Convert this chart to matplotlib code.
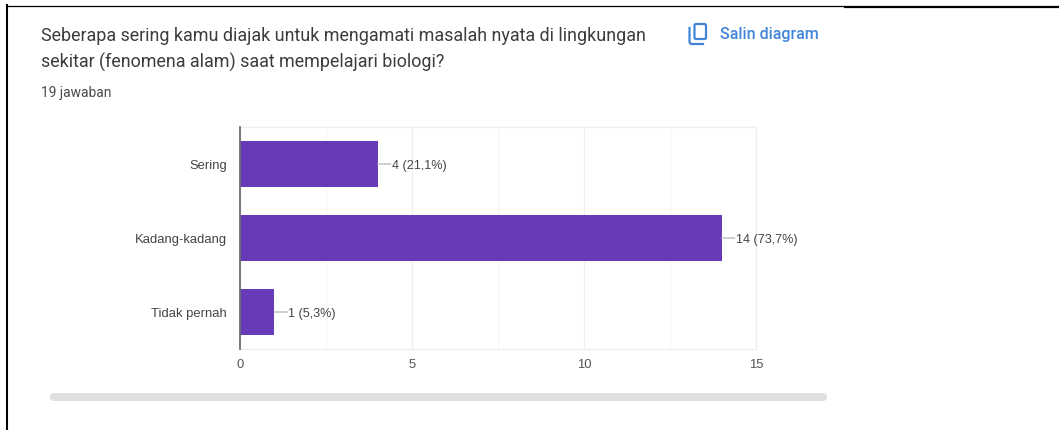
import matplotlib
matplotlib.use("Agg")
import matplotlib.pyplot as plt
from matplotlib.patches import FancyBboxPatch
from matplotlib.lines import Line2D

categories = ["Sering", "Kadang-kadang", "Tidak pernah"]
counts = [4, 14, 1]
value_labels = ["4 (21,1%)", "14 (73,7%)", "1 (5,3%)"]
major_ticks = [0, 5, 10, 15]
minor_grid = [2.5, 7.5, 12.5]
title_lines = ["Seberapa sering kamu diajak untuk mengamati masalah nyata di lingkungan",
               "sekitar (fenomena alam) saat mempelajari biologi?"]
subtitle = "19 jawaban"
copy_label = "Salin diagram"

W, H = 1059, 430
fig = plt.figure(figsize=(W / 100, H / 100), dpi=100, facecolor="white")

# Pixel-space overlay for the page furniture
bg = fig.add_axes([0, 0, 1, 1], zorder=0)
bg.set_xlim(0, W); bg.set_ylim(H, 0); bg.axis("off")
bg.add_line(Line2D([7, 7], [5, H], color="black", lw=1.5))
bg.add_line(Line2D([7, 845], [6, 6], color="black", lw=0.9))
bg.add_line(Line2D([845, W], [6.5, 6.5], color="black", lw=1.6))
bg.add_patch(FancyBboxPatch((50, 393), 777, 8, boxstyle="round,pad=0,rounding_size=4",
                            mutation_aspect=1, fc="#e0e0e0", ec="#e0e0e0", lw=0))
# copy icon
bg.add_patch(FancyBboxPatch((694.5, 24), 11.5, 15, boxstyle="round,pad=0,rounding_size=1.5",
                            fc="white", ec="#4285d8", lw=1.6))
bg.add_line(Line2D([689.5, 689.5, 691, 703], [28, 42.5, 44, 44], color="#4285d8", lw=1.6))

font = "Roboto"
bg.text(41, 36, title_lines[0], fontsize=12.85, color="#3c3c3c", family=font, va="center", ha="left")
bg.text(41, 62, title_lines[1], fontsize=12.85, color="#3c3c3c", family=font, va="center", ha="left")
bg.text(41, 92.5, subtitle, fontsize=9.9, color="#4a4a4a", family=font, va="center", ha="left")
bg.text(720, 34.5, copy_label, fontsize=11.5, color="#4285d8", family=font, weight="medium",
        va="center", ha="left")

# Chart axes
left, right, top, bottom = 240, 756, 127, 349
ax = fig.add_axes([left / W, 1 - bottom / H, (right - left) / W, (bottom - top) / H], zorder=1)
ax.patch.set_alpha(0)
pos = list(range(len(categories)))
ax.barh(pos, counts, height=0.62, color="#673ab7", linewidth=0, zorder=3)
ax.set_xlim(major_ticks[0], major_ticks[-1])
ax.set_ylim(len(categories) - 0.5, -0.5)
ax.set_yticks(pos, categories)
ax.set_xticks(major_ticks)
ax.tick_params(length=0, labelsize=9.4, labelcolor="#444444")
ax.tick_params(axis="y", pad=9.2)
ax.tick_params(axis="x", pad=7.2, labelcolor="#555555")
for lab in ax.get_xticklabels() + ax.get_yticklabels():
    lab.set_family("Liberation Sans")
ax.grid(axis="x", color="#eeeeee", lw=0.9, zorder=0)
for g in minor_grid:
    ax.axvline(g, color="#f6f6f6", lw=0.8, zorder=0)
for s in ["top", "right", "bottom"]:
    ax.spines[s].set_color("#eeeeee")
    ax.spines[s].set_linewidth(0.9)
ax.spines["left"].set_color("#6e6e6e")
ax.spines["left"].set_linewidth(1.3)
ax.spines["left"].set_zorder(4)

for y, c, lab in zip(pos, counts, value_labels):
    ax.annotate(lab, xy=(c, y), xytext=(14, -2), textcoords="offset pixels",
                fontsize=9.1, color="#444444", family="Liberation Sans", va="center", ha="left",
                annotation_clip=False, zorder=5)
    ax.annotate("", xy=(c, y), xytext=(13, 0), textcoords="offset pixels",
                arrowprops=dict(arrowstyle="-", color="#b5b5b5", lw=0.9, shrinkA=0, shrinkB=0),
                annotation_clip=False, zorder=5)

fig.savefig("out.png", dpi=100)
